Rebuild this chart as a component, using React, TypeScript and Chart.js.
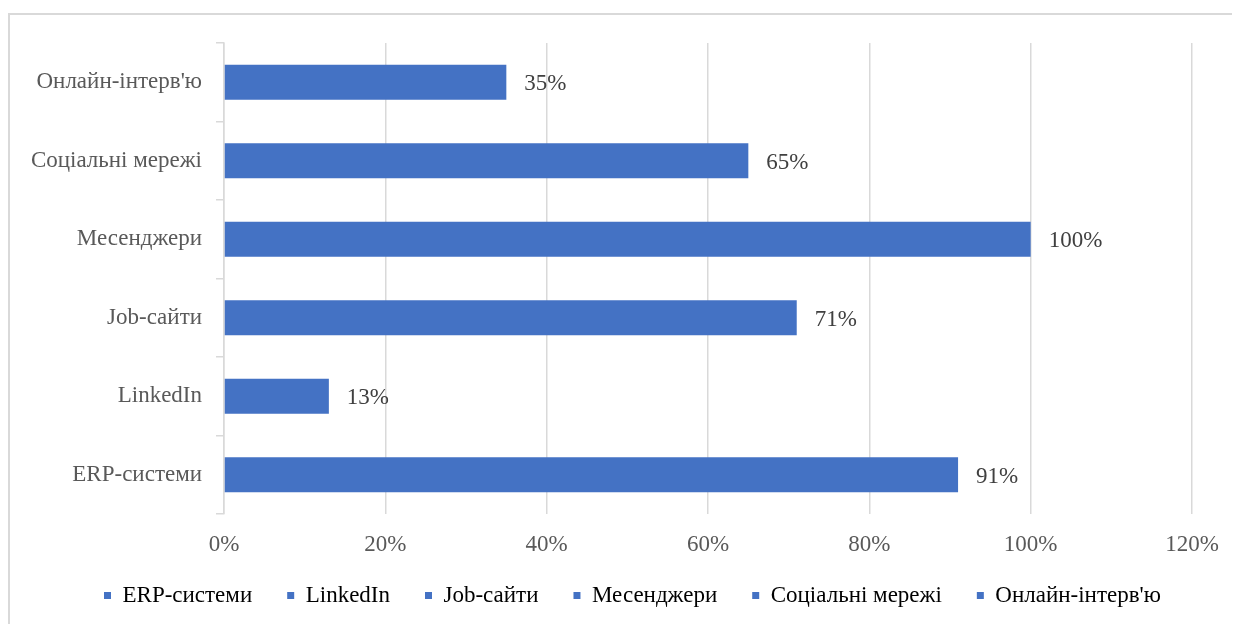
import React, { useEffect, useRef } from "react";
import { Chart, registerables } from "chart.js";

Chart.register(...registerables);

const categories = ["ERP-системи", "LinkedIn", "Job-сайти", "Месенджери", "Соціальні мережі", "Онлайн-інтерв'ю"];
const values = [91, 13, 71, 100, 65, 35];
const valueLabels = ["91%", "13%", "71%", "100%", "65%", "35%"];
const xTickLabels = ["0%", "20%", "40%", "60%", "80%", "100%", "120%"];

const FONT = "'Liberation Serif', 'Times New Roman', serif";
const FS = 23;
const BLUE = "#4472C4";
const GRID = "#d9d9d9";

export default function App() {
  const ref = useRef<HTMLCanvasElement | null>(null);

  useEffect(() => {
    if (!ref.current) return;
    const dataLabelPlugin = {
      id: "dataLabelPlugin",
      afterDatasetsDraw(chart: any) {
        const ctx = chart.ctx;
        const meta = chart.getDatasetMeta(0);
        ctx.save();
        ctx.font = `${FS}px ${FONT}`;
        ctx.fillStyle = "#404040";
        ctx.textAlign = "left";
        ctx.textBaseline = "middle";
        meta.data.forEach((bar: any, i: number) => {
          ctx.fillText(valueLabels[i], bar.x + 18, bar.y + 2);
        });
        ctx.restore();
      },
    };
    const legendShift = {
      id: "legendShift",
      afterLayout(chart: any) {
        const lg = chart.legend;
        if (!lg) return;
        const h = lg.height;
        lg.left = 59;
        lg.right = chart.width;
        lg.width = lg.right - lg.left;
        lg.top = 534;
        lg.bottom = 534 + h;
      },
    };
    const chart = new Chart(ref.current, {
      type: "bar",
      data: {
        labels: categories,
        datasets: [
          {
            label: "Series",
            data: values,
            backgroundColor: BLUE,
            borderWidth: 0,
            barPercentage: 0.445,
            categoryPercentage: 1,
          },
        ],
      },
      options: {
        indexAxis: "y",
        animation: false,
        responsive: false,
        maintainAspectRatio: false,
        layout: { padding: { top: 28, right: 46, left: 0, bottom: 1 } },
        scales: {
          x: {
            min: 0,
            max: 120,
            ticks: {
              stepSize: 20,
              color: "#595959",
              font: { family: FONT, size: FS },
              padding: 17,
              callback: (_v: any, i: number) => xTickLabels[i],
            },
            grid: { color: GRID, lineWidth: 1.5, drawTicks: false },
            border: { display: false },
            afterFit(scale: any) {
              scale.height = 45;
            },
          },
          y: {
            reverse: true,
            ticks: {
              color: "#595959",
              font: { family: FONT, size: FS },
              padding: 14,
            },
            grid: {
              display: true,
              drawOnChartArea: false,
              drawTicks: true,
              tickLength: 8,
              color: GRID,
              lineWidth: 1.5,
              offset: true,
            },
            border: { display: true, color: GRID, width: 1.5 },
            afterFit(scale: any) {
              scale.width = 214;
            },
          },
        },
        plugins: {
          tooltip: { enabled: false },
          legend: {
            position: "bottom",
            align: "start",
            labels: {
              color: "#595959",
              font: { family: FONT, size: FS },
              boxWidth: 7,
              boxHeight: 7,
              padding: 35,
              generateLabels: () =>
                categories.map((c, i) => ({
                  text: c,
                  fillStyle: BLUE,
                  strokeStyle: BLUE,
                  lineWidth: 0,
                  hidden: false,
                  index: i,
                  datasetIndex: 0,
                })),
            },
          },
        },
      },
      plugins: [dataLabelPlugin, legendShift],
    } as any);
    return () => chart.destroy();
  }, []);

  return (
    <div style={{ position: "relative", width: 1232, height: 616, overflow: "hidden" }}>
      <div
        style={{
          position: "absolute",
          left: 0,
          top: 5,
          width: 1300,
          height: 700,
          border: `2px solid ${GRID}`,
          boxSizing: "border-box",
        }}
      />
      <canvas
        ref={ref}
        width={1228}
        height={613}
        style={{ position: "absolute", left: 2, top: 7, width: 1228, height: 613 }}
      />
    </div>
  );
}
